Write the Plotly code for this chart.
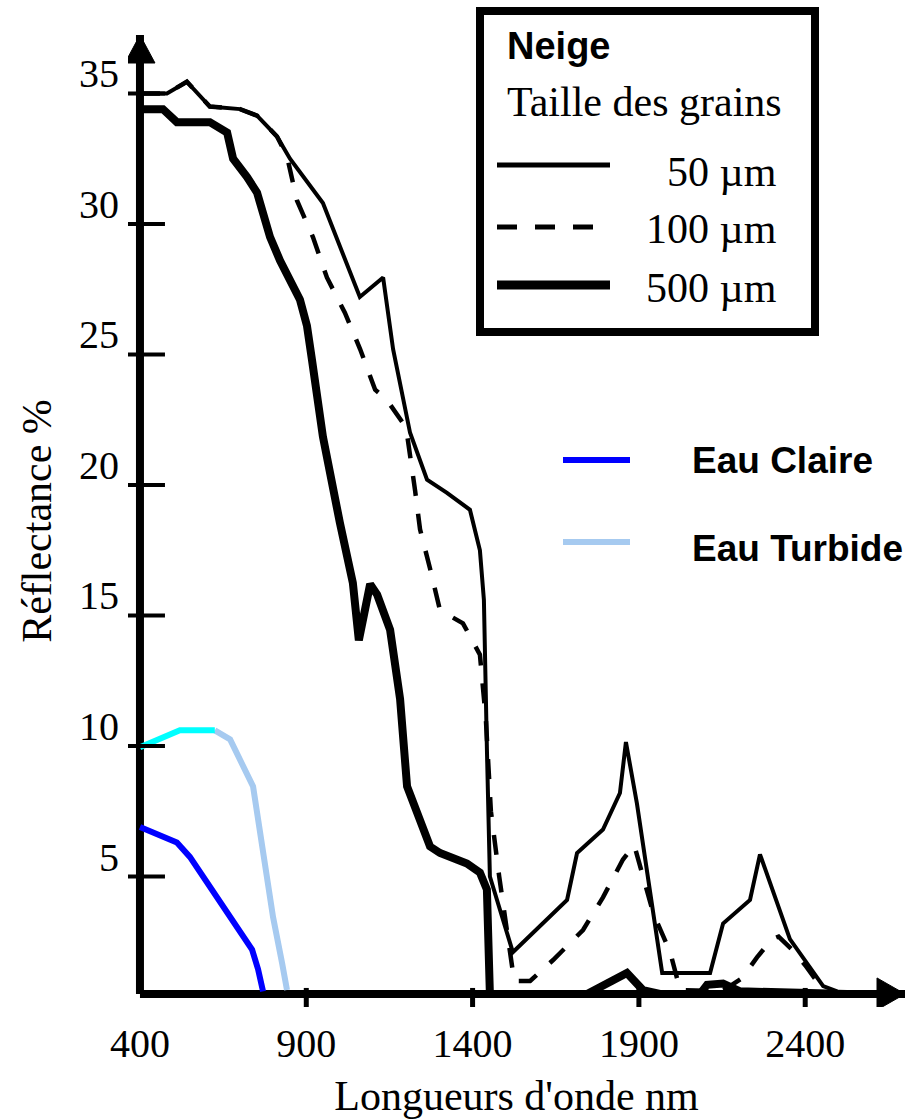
import plotly.graph_objects as go

# ---------------- data ----------------
wl_50 = [400, 481, 541, 610, 701, 752, 812, 851, 950, 1061, 1131, 1161, 1212, 1263,
         1323, 1392, 1422, 1434, 1443, 1452, 1521, 1684, 1714, 1792, 1843, 1861, 1894,
         1943, 1970, 2114, 2153, 2234, 2264, 2354, 2454, 2496]
r_50 = [35.0, 35.0, 35.45, 34.5, 34.4, 34.15, 33.35, 32.5, 30.8, 27.2, 27.95, 25.2, 22.0, 20.2,
        19.7, 19.05, 17.5, 15.6, 9.9, 5.0, 2.1, 4.1, 5.9, 6.8, 8.2, 10.15, 7.8,
        3.6, 1.3, 1.3, 3.2, 4.1, 5.85, 2.6, 0.8, 0.6]

wl_100 = [400, 481, 541, 610, 701, 752, 812, 842, 872, 920, 962, 1016, 1062, 1107, 1140,
          1200, 1227, 1242, 1272, 1302, 1371, 1422, 1440, 1455, 1480, 1510, 1525, 1573,
          1642, 1732, 1792, 1852, 1886, 1943, 1994, 2024, 2150, 2210, 2255, 2300, 2320,
          2360, 2400, 2440, 2480]
r_100 = [35.0, 35.0, 35.45, 34.5, 34.4, 34.15, 33.35, 32.6, 30.9, 29.5, 27.95, 26.6, 25.2, 23.65, 23.3,
         22.2, 19.8, 18.3, 16.8, 15.2, 14.7, 13.5, 11.0, 7.5, 5.0, 2.5, 1.0, 1.0,
         1.8, 2.95, 4.2, 5.65, 6.2, 3.6, 2.1, 0.65, 0.6, 1.1, 1.9, 2.6, 2.7,
         2.2, 1.6, 0.9, 0.6]

wl_500 = [400, 469, 511, 610, 662, 680, 722, 752, 791, 821, 881, 902, 917, 950, 1001, 1040,
          1058, 1092, 1113, 1152, 1182, 1203, 1272, 1302, 1383, 1422, 1443, 1452, 1744,
          1804, 1864, 1912, 1963, 2084, 2105, 2153, 2204, 2526]
r_500 = [34.4, 34.4, 33.9, 33.9, 33.5, 32.5, 31.8, 31.2, 29.5, 28.6, 27.1, 26.1, 24.8, 21.85, 18.55, 16.25,
         14.05, 16.2, 15.8, 14.45, 11.8, 8.45, 6.15, 5.9, 5.5, 5.15, 4.5, 0.5, 0.5,
         0.9, 1.3, 0.65, 0.5, 0.5, 0.85, 0.9, 0.6, 0.5]

wl_claire = [400, 511, 550, 611, 691, 737, 755, 770]
r_claire = [6.9, 6.3, 5.75, 4.6, 3.1, 2.2, 1.45, 0.6]

wl_turbide = [400, 520, 625, 671, 740, 770, 800, 827, 842]
r_turbide = [9.95, 10.6, 10.6, 10.25, 8.45, 6.0, 3.45, 1.7, 0.65]
turbide_cyan_end = 2          # first points drawn in cyan, the rest light blue

x_ticks = [400, 900, 1400, 1900, 2400]
y_ticks = [5, 10, 15, 20, 25, 30, 35]
x_origin = 400
y_origin = 0.5

legend_snow = ["50 µm", "100 µm", "500 µm"]
legend_water = ["Eau Claire", "Eau Turbide"]

# ---------------- layout geometry ----------------
W, H = 914, 1119
ML, MR, MT, MB = 128, 9, 35, 112
X_RANGE = [364, 2700]
Y_RANGE = [0, 37.24]
PW, PH = W - ML - MR, H - MT - MB


def paper_x(px):
    return (px - ML) / PW


def paper_y(py):
    return (H - MB - py) / PH


SERIF = "Liberation Serif"
SANS = "Liberation Sans"
BLUE = "#0000FF"
CYAN = "#00FFFF"
LIGHTBLUE = "#A6CAF0"
DASH = "20px,18px"

fig = go.Figure()

fig.add_trace(go.Scatter(x=wl_claire, y=r_claire, mode="lines",
                         line=dict(color=BLUE, width=6), name="Eau Claire", showlegend=False))
fig.add_trace(go.Scatter(x=wl_turbide[turbide_cyan_end:], y=r_turbide[turbide_cyan_end:], mode="lines",
                         line=dict(color=LIGHTBLUE, width=6), name="Eau Turbide", showlegend=False))
fig.add_trace(go.Scatter(x=wl_turbide[:turbide_cyan_end + 1], y=r_turbide[:turbide_cyan_end + 1], mode="lines",
                         line=dict(color=CYAN, width=6), name="Eau Turbide", showlegend=False))
fig.add_trace(go.Scatter(x=wl_500, y=r_500, mode="lines",
                         line=dict(color="black", width=8), name="500 µm", showlegend=False))
fig.add_trace(go.Scatter(x=wl_100, y=r_100, mode="lines",
                         line=dict(color="black", width=4.5, dash=DASH), name="100 µm", showlegend=False))
fig.add_trace(go.Scatter(x=wl_50, y=r_50, mode="lines",
                         line=dict(color="black", width=4), name="50 µm", showlegend=False))

shapes = []
# axis lines
shapes.append(dict(type="line", xref="x", yref="y", x0=x_origin, x1=X_RANGE[1],
                   y0=y_origin, y1=y_origin, line=dict(color="black", width=8), layer="below"))
shapes.append(dict(type="line", xref="x", yref="y", x0=x_origin, x1=x_origin,
                   y0=y_origin, y1=Y_RANGE[1], line=dict(color="black", width=8), layer="below"))
# arrow heads
shapes.append(dict(type="path", xref="x", yref="paper", xsizemode="pixel", ysizemode="pixel",
                   xanchor=x_origin, yanchor=1, path="M -15 -28 L 0 0 L 15 -28 Z",
                   fillcolor="black", line=dict(color="black", width=1)))
shapes.append(dict(type="path", xref="paper", yref="y", xsizemode="pixel", ysizemode="pixel",
                   xanchor=1, yanchor=y_origin, path="M -28 16 L 0 0 L -28 -16 Z",
                   fillcolor="black", line=dict(color="black", width=1)))
# tick marks crossing the axes
for t in x_ticks[1:]:
    shapes.append(dict(type="line", xref="x", yref="y", ysizemode="pixel", yanchor=y_origin,
                       x0=t, x1=t, y0=6, y1=-30, line=dict(color="black", width=5)))
for t in y_ticks:
    shapes.append(dict(type="line", xref="x", yref="y", xsizemode="pixel", xanchor=x_origin,
                       y0=t, y1=t, x0=-13, x1=25, line=dict(color="black", width=4)))

# snow legend box
shapes.append(dict(type="rect", xref="paper", yref="paper",
                   x0=paper_x(480), x1=paper_x(815), y0=paper_y(332), y1=paper_y(11),
                   line=dict(color="black", width=8), fillcolor="rgba(0,0,0,0)"))
snow_styles = [dict(width=5), dict(width=5, dash=DASH), dict(width=9)]
snow_rows = [165, 227, 285]
for st, py in zip(snow_styles, snow_rows):
    shapes.append(dict(type="line", xref="paper", yref="paper", x0=paper_x(497), x1=paper_x(610),
                       y0=paper_y(py), y1=paper_y(py), line=dict(color="black", **st)))
water_colors = [BLUE, LIGHTBLUE]
water_rows = [460, 542]
for c, py in zip(water_colors, water_rows):
    shapes.append(dict(type="line", xref="paper", yref="paper", x0=paper_x(563), x1=paper_x(630),
                       y0=paper_y(py), y1=paper_y(py), line=dict(color=c, width=6)))

annotations = []
annotations.append(dict(text="<b>Neige</b>", xref="paper", yref="paper", x=paper_x(505), y=paper_y(46),
                        xanchor="left", yanchor="middle", showarrow=False,
                        font=dict(family=SANS, size=38, color="black")))
annotations.append(dict(text="Taille des grains", xref="paper", yref="paper", x=paper_x(505), y=paper_y(102),
                        xanchor="left", yanchor="middle", showarrow=False,
                        font=dict(family=SERIF, size=42, color="black")))
for txt, py in zip(legend_snow, [172, 229, 288]):
    annotations.append(dict(text=txt, xref="paper", yref="paper", x=paper_x(779), y=paper_y(py),
                            xanchor="right", yanchor="middle", showarrow=False,
                            font=dict(family=SERIF, size=42, color="black")))
for txt, py in zip(legend_water, [460, 548]):
    annotations.append(dict(text="<b>%s</b>" % txt, xref="paper", yref="paper", x=paper_x(690), y=paper_y(py),
                            xanchor="left", yanchor="middle", showarrow=False,
                            font=dict(family=SANS, size=37, color="black")))

fig.update_layout(
    template="none",
    width=W, height=H,
    margin=dict(l=ML, r=MR, t=MT, b=MB, pad=0),
    paper_bgcolor="white", plot_bgcolor="white",
    showlegend=False, hovermode=False,
    shapes=shapes, annotations=annotations,
)
fig.update_xaxes(range=X_RANGE, showline=False, showgrid=False, zeroline=False, automargin=False,
                 tickmode="array", tickvals=x_ticks, ticktext=[str(v) for v in x_ticks], ticks="",
                 tickfont=dict(family=SERIF, size=40, color="black"), ticklabelstandoff=9,
                 title=dict(text="Longueurs d'onde nm", font=dict(family=SERIF, size=42, color="black"),
                            standoff=16))
fig.update_yaxes(range=Y_RANGE, showline=False, showgrid=False, zeroline=False, automargin=False,
                 tickmode="array", tickvals=y_ticks, ticktext=[str(v) for v in y_ticks], ticks="",
                 tickfont=dict(family=SERIF, size=40, color="black"), ticklabelstandoff=8,
                 ticklabelshift=-20,
                 title=dict(text="Réflectance %", font=dict(family=SERIF, size=42, color="black"),
                            standoff=14))

fig.write_html("out.html")
